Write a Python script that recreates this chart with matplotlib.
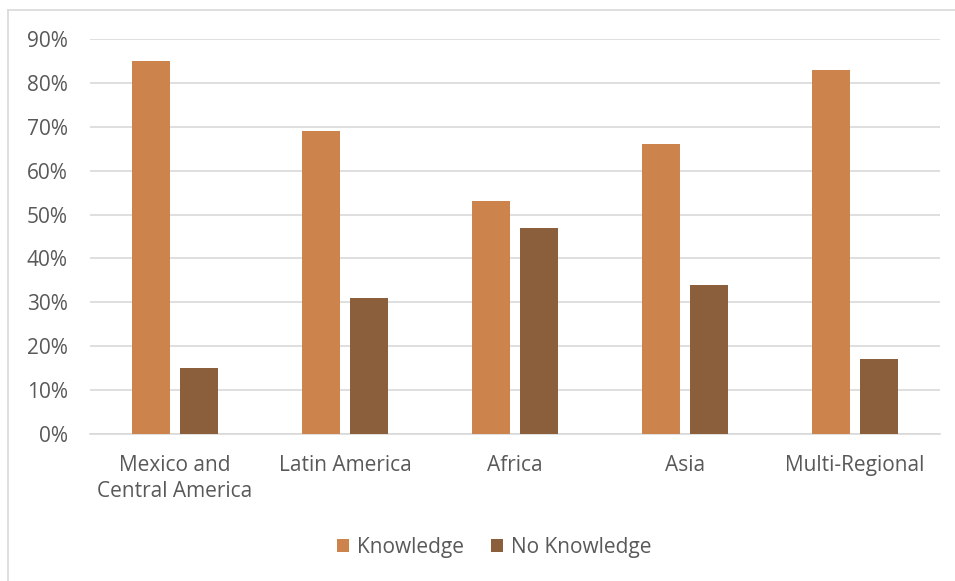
from matplotlib import pyplot as plt
from matplotlib.lines import Line2D
import numpy as np

regions = ['Mexico and\nCentral America', 'Latin America', 'Africa', 'Asia', 'Multi-Regional']
knowledge = [85, 69, 53, 66, 83]
no_knowledge = [15, 31, 47, 34, 17]
yticks = [0, 10, 20, 30, 40, 50, 60, 70, 80, 90]

plt.rcParams['font.family'] = ['Open Sans', 'DejaVu Sans']
text_color = '#595959'

fig = plt.figure(figsize=(9.55, 5.81), dpi=100)
ax = fig.add_axes([90/955, 1 - 434/581, 850/955, 395/581])

x = np.arange(len(regions))
w = 0.224
ax.bar(x - 0.141, knowledge, w, color='#CD844C', label='Knowledge', zorder=3)
ax.bar(x + 0.141, no_knowledge, w, color='#8B5E3C', label='No Knowledge', zorder=3)

ax.set_xlim(-0.5, len(regions) - 0.5)
ax.set_ylim(0, 90)
ax.set_yticks(yticks)
ax.set_yticklabels(['%d%%' % v for v in yticks])
ax.set_xticks(x)
ax.set_xticklabels(regions, linespacing=1.32)
ax.yaxis.grid(True, color='#D9D9D9', lw=1.2, zorder=0)
for s in ['top', 'right', 'left']:
    ax.spines[s].set_visible(False)
ax.spines['bottom'].set_color('#D9D9D9')
ax.spines['bottom'].set_linewidth(1.2)
ax.tick_params(axis='both', length=0, labelsize=15, colors=text_color)
ax.tick_params(axis='x', pad=15)
ax.tick_params(axis='y', pad=16)

leg = fig.legend(loc='center', bbox_to_anchor=(494/955, 1 - 547/581), ncol=2,
                 frameon=False, fontsize=15, handlelength=0.6, handleheight=0.6,
                 columnspacing=1.3, handletextpad=0.35)
for t in leg.get_texts():
    t.set_color(text_color)

# chart area border (left and top edges visible)
fig.add_artist(Line2D([8/955, 8/955], [0, 1 - 10/581], color='#D9D9D9', lw=1.2))
fig.add_artist(Line2D([8/955, 1], [1 - 10/581, 1 - 10/581], color='#D9D9D9', lw=1.2))

fig.savefig('out.png', dpi=100)
